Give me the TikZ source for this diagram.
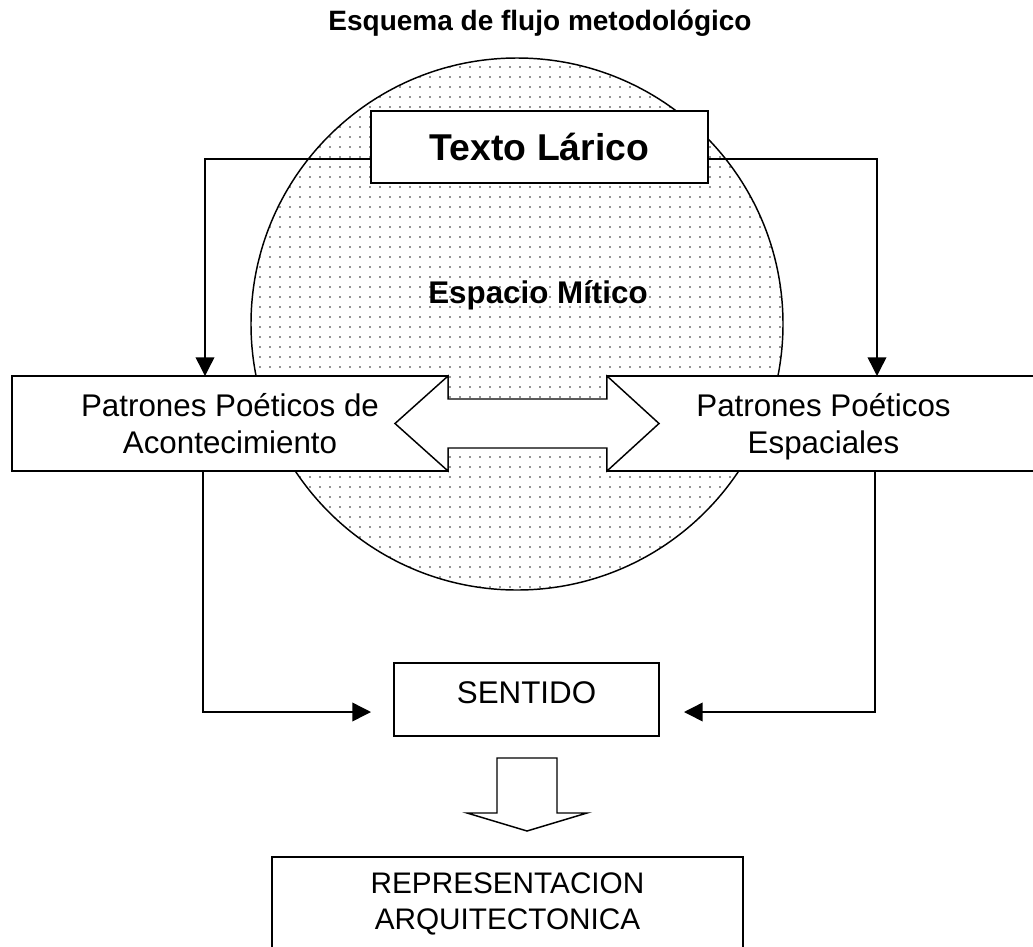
\documentclass[tikz,border=0pt]{standalone}
\usepackage{fontspec}
\setmainfont{Liberation Sans}
\usetikzlibrary{arrows.meta,patterns}
\pgfdeclarepatternformonly{puntos}{\pgfpoint{-1pt}{-1pt}}{\pgfpoint{1pt}{1pt}}{\pgfpoint{7.5pt}{7.5pt}}{\pgfpathcircle{\pgfpointorigin}{0.7pt}\pgfusepath{fill}}
\tikzset{caja/.style={draw,line width=1.1pt,fill=white,inner sep=0pt,align=center,font=\fontsize{23.5}{28}\selectfont},
flujo/.style={line width=1.1pt,-{Triangle[length=14pt,width=14pt]}},
bloque/.style={draw,line width=1.1pt,fill=white,line join=miter}}
\begin{document}
\begin{tikzpicture}[x=.75pt,y=-.75pt]
\useasboundingbox(0,0)rectangle(1033,947);
\node(titulo)at(540,23){\fontsize{21}{25}\selectfont\bfseries Esquema de flujo metodológico};
% espacio mitico
\draw[line width=1.1pt,pattern=puntos,pattern color=black!85](517,324)circle[radius=199.5pt];
\node(mitico)at(538,295){\fontsize{23.5}{28}\selectfont\bfseries Espacio Mítico};
\node[caja,minimum width=252.75pt,minimum height=54pt,font=\fontsize{28}{34}\selectfont\bfseries](lirico)at(539.5,147){Texto Lárico};
% patrones
\node[caja,minimum width=327pt,minimum height=71.25pt,text depth=0pt](acon)at(230,423.5){Patrones Poéticos de\\Acontecimiento};
\node[caja,minimum width=324.75pt,minimum height=71.25pt,text depth=0pt](espa)at(823.5,423.5){Patrones Poéticos\\Espaciales};
\coordinate(entA)at(205,376);\coordinate(entE)at(877,376);
\draw[flujo]([yshift=-9pt]lirico.west)-|(entA);\draw[flujo]([yshift=-9pt]lirico.east)-|(entE);
\draw[bloque](395,423.5)--(448,376)--(448,399)--(607,399)--(607,376)--(659,423.5)--(607,471)--(607,448)--(448,448)--(448,471)--cycle;
% sentido
\node[caja,minimum width=198.75pt,minimum height=54.75pt,text depth=9.8pt](sentido)at(526.5,699.5){SENTIDO};
\coordinate(salA)at(371,712);\coordinate(salE)at(684,712);
\draw[flujo]([xshift=-20.25pt]acon.south)|-(salA);\draw[flujo]([xshift=38.6pt]espa.south)|-(salE);
\draw[bloque](497,758)--(557,758)--(557,813)--(587,813)--(527,831)--(467,813)--(497,813)--cycle;
\node[caja,minimum width=353.25pt,minimum height=70.5pt,font=\fontsize{22.3}{27}\selectfont](repre)at(507.5,904){REPRESENTACION\\ARQUITECTONICA};
\end{tikzpicture}
\end{document}
